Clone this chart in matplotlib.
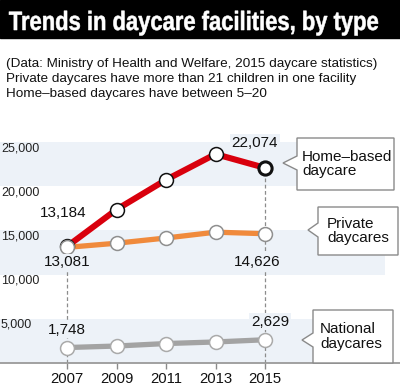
import matplotlib
matplotlib.use("Agg")
import matplotlib.pyplot as plt
from matplotlib.patches import Rectangle, Polygon, PathPatch
from matplotlib.textpath import TextPath
from matplotlib.font_manager import FontProperties
from matplotlib.transforms import Affine2D

plt.rcParams['font.family'] = ['Liberation Sans', 'DejaVu Sans']

# data
years = [2007, 2009, 2011, 2013, 2015]
home_based = [13184, 17359, 20722, 23632, 22074]
private = [13081, 13550, 14140, 14800, 14626]
national = [1748, 1920, 2200, 2380, 2629]
ytick_vals = [25000, 20000, 15000, 10000, 5000]

title = "Trends in daycare facilities, by type"
notes = ["(Data: Ministry of Health and Welfare, 2015 daycare statistics)",
         "Private daycares have more than 21 children in one facility",
         "Home\u2013based daycares have between 5\u201320"]

W, H = 400, 387
RED = '#d9000d'
ORANGE = '#f08a3c'
GREY = '#a3a3a3'
BAND = '#edf2f8'


def fx(x):
    return x / W


def fy(y):
    return 1 - y / H


fig = plt.figure(figsize=(4, 3.87), dpi=100)

# title bar
fig.patches.append(Rectangle((0, fy(38)), 1, 38 / H, transform=fig.transFigure,
                             color='black', zorder=0))
# title squeezed to the condensed look of the original
tp = TextPath((0, 0), title, size=1, prop=FontProperties(family='Liberation Sans', weight='bold'))
ext = tp.get_extents()
sx = (378 - 9) / ext.width
sy = 26.5
tr = Affine2D().translate(-ext.x0, 0).scale(sx / W, sy / H).translate(fx(9), fy(30)) + fig.transFigure
fig.add_artist(PathPatch(tp, transform=tr, fc='white', ec='white', lw=0.4))

for i, line in enumerate(notes):
    fig.text(fx(6), fy(67 + 15 * i), line, fontsize=9.7, color='#111', va='baseline')

# plot area
ax = fig.add_axes([0, (H - 363) / H, 1, (363 - 120) / H])
ax.set_xlim(2007 - 67 / 24.75, 2015 + 135 / 24.75)
ax.set_ylim(0, 243 * 25000 / 221)
ax.patch.set_alpha(0)
for s in ['top', 'left', 'right']:
    ax.spines[s].set_visible(False)
ax.spines['bottom'].set_color('#9a9a9a')
ax.spines['bottom'].set_linewidth(1.3)

# alternating bands
for i, v in enumerate(ytick_vals):
    if i % 2 == 0:
        ax.axhspan(v - 5000, v, xmin=0, xmax=0.9625, color=BAND, zorder=0, lw=0)
    ax.text(fx(1), v, f"{v:,}", transform=ax.get_yaxis_transform(),
            fontsize=9, color='#222', va='top', ha='left')

ax.set_yticks([])
ax.set_xticks(years)
ax.set_xticklabels([str(y) for y in years], fontsize=10.7, color='#111')
ax.tick_params(axis='x', length=4.5, color='#8a8a8a', width=1, pad=2)

# dashed guides
ax.vlines(years[0], 0, private[0], colors='#8c8c8c', linestyles=(0, (3, 2)), lw=0.9, zorder=1)
ax.vlines(years[-1], 0, home_based[-1], colors='#8c8c8c', linestyles=(0, (3, 2)), lw=0.9, zorder=1)

# lines
ax.plot(years, home_based, color=RED, lw=4.4, zorder=3, solid_capstyle='butt')
ax.plot(years[:-1], home_based[:-1], 'o', ms=10, mfc='white', mec='#111', mew=1.1, zorder=4)
ax.plot(years[-1:], home_based[-1:], 'o', ms=9.5, mfc='white', mec='#111', mew=2.2, zorder=4)
ax.plot(years, private, color=ORANGE, lw=3.8, zorder=3, solid_capstyle='butt')
ax.plot(years, private, 'o', ms=10, mfc='white', mec='#8f8f8f', mew=1.1, zorder=5)
ax.plot(years, national, color=GREY, lw=3.8, zorder=3, solid_capstyle='butt')
ax.plot(years, national, 'o', ms=10, mfc='white', mec='#aaaaaa', mew=1.1, zorder=5)

# value labels (offsets in pixels)
box = dict(boxstyle='square,pad=0.1', fc=BAND, ec='none')
labels = [
    (years[0], home_based[0], -4, 33, None),
    (years[0], private[0], 0, -15, box),
    (years[-1], home_based[-1], -10, 25, box),
    (years[-1], private[-1], -8, -28, box),
    (years[0], national[0], 0, 18, box),
    (years[-1], national[-1], 5, 18, box),
]
for x, y, dx, dy, bb in labels:
    ax.annotate(f"{y:,}", (x, y), xytext=(dx, dy), textcoords='offset pixels',
                ha='center', va='center', fontsize=11, color='#111', bbox=bb, zorder=6)


# callout boxes (figure pixel coords, y downward)
def callout(x0, y0, x1, y1, tx, ty, text, text_x):
    pts = [(x0, y0), (x1, y0), (x1, y1), (x0, y1), (x0, ty + 7), (tx, ty), (x0, ty - 7)]
    fig.patches.append(Polygon([(fx(a), fy(b)) for a, b in pts], closed=True,
                               transform=fig.transFigure, fc='white', ec='#8a8a8a',
                               lw=1, zorder=10))
    fig.text(fx(text_x), fy((y0 + y1) / 2), text, fontsize=11, color='#111',
             va='center', ha='left', linespacing=1.05, zorder=11)


callout(297, 138, 394, 190, 283, 163, "Home\u2013based\ndaycare", 302)
callout(318, 207, 398, 255, 308, 230, "Private\ndaycares", 327)
callout(313, 310, 393, 363, 302, 340, "National\ndaycares", 320)

fig.savefig("out.png", dpi=100)
